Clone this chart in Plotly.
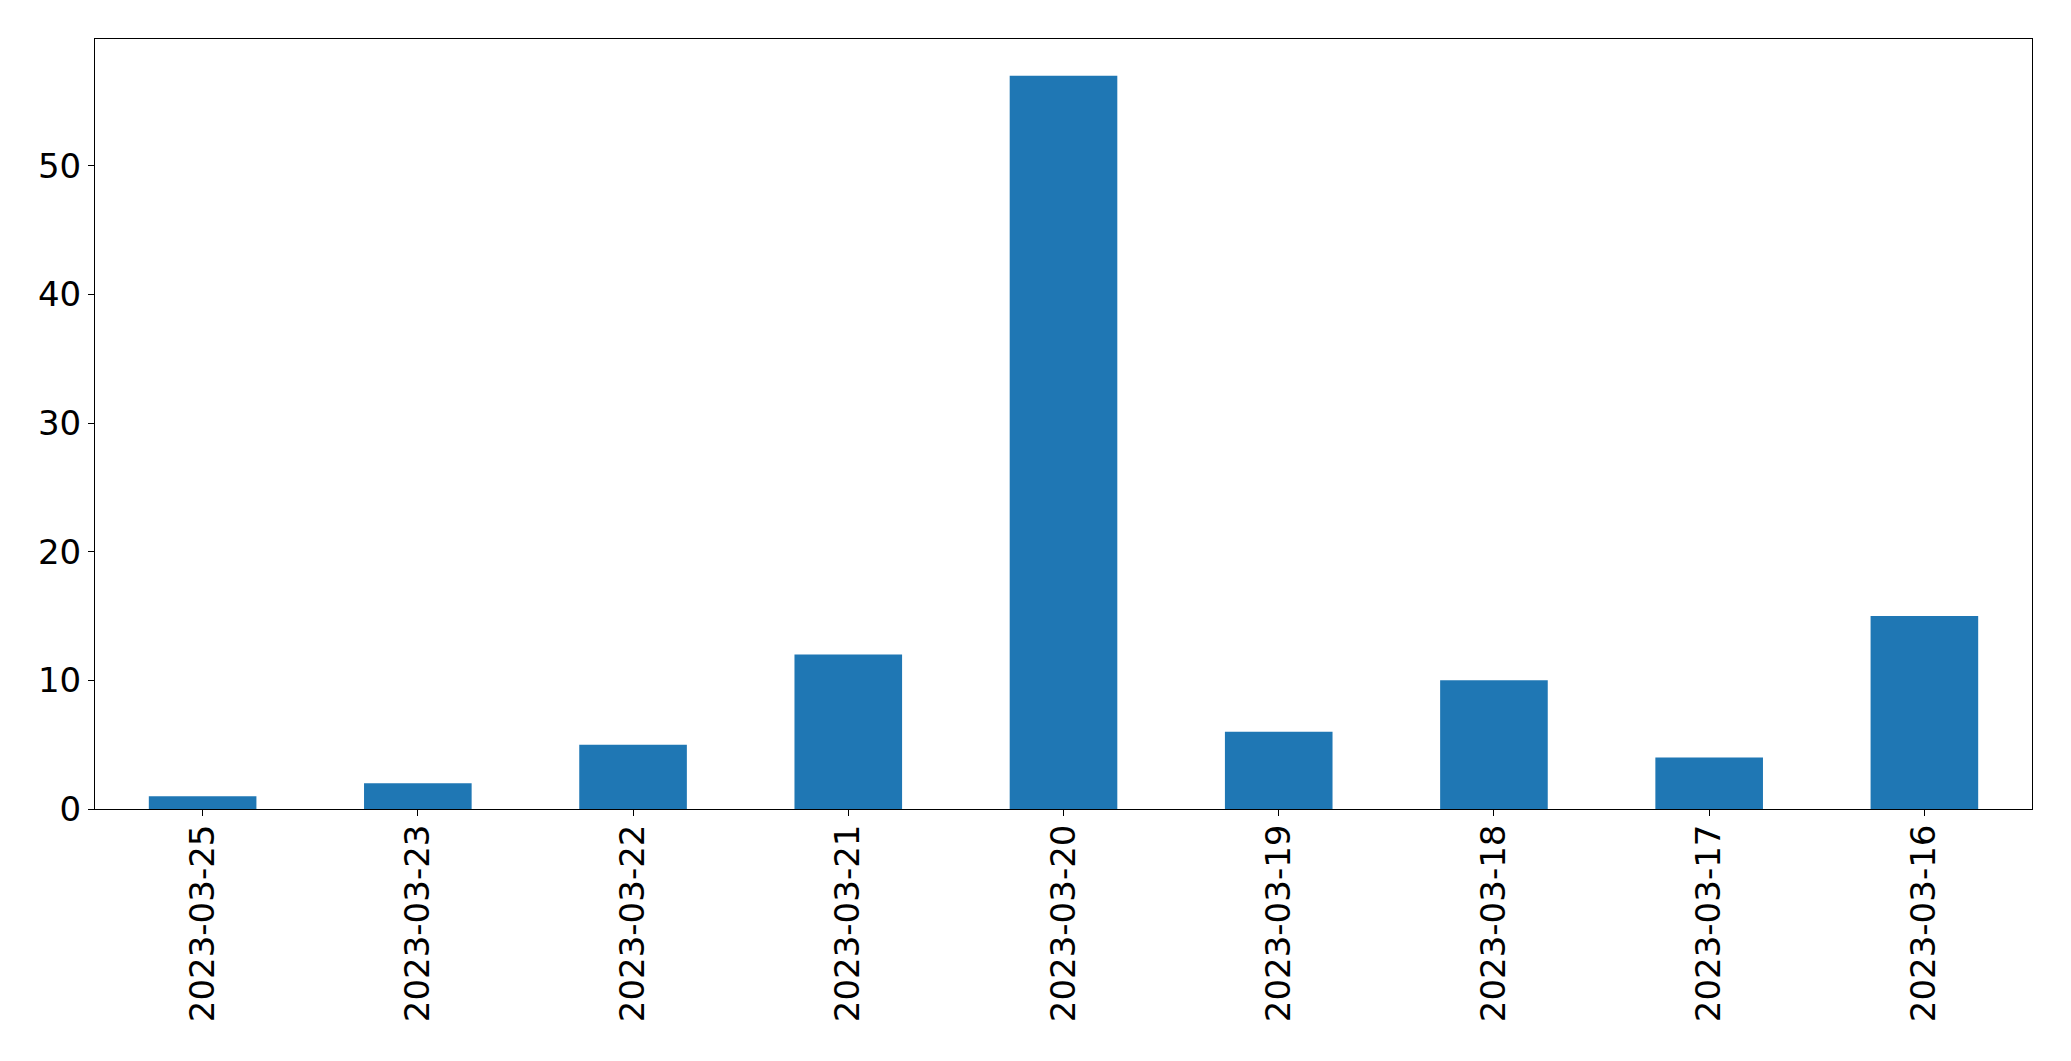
import plotly.graph_objects as go

dates = ["2023-03-25", "2023-03-23", "2023-03-22", "2023-03-21", "2023-03-20",
         "2023-03-19", "2023-03-18", "2023-03-17", "2023-03-16"]
counts = [1, 2, 5, 12, 57, 6, 10, 4, 15]
y_ticks = [0, 10, 20, 30, 40, 50]

fig = go.Figure(go.Bar(x=dates, y=counts, marker=dict(color="#1f77b4", line=dict(width=0)), width=0.5))

font = dict(family="DejaVu Sans", size=34, color="black")
fig.update_layout(
    width=2055, height=1045,
    margin=dict(l=87, r=31, t=31, b=244),
    plot_bgcolor="white", paper_bgcolor="white",
    showlegend=False,
    font=font,
)
fig.update_xaxes(
    type="category", range=[-0.5, 8.5],
    showline=True, mirror=True, linecolor="black", linewidth=1,
    ticks="outside", ticklen=6, tickwidth=1, tickcolor="black",
    tickangle=-90, showgrid=False, tickfont=font,
    ticklabelstandoff=-5,
)
fig.update_yaxes(
    range=[0, 59.85], tickvals=y_ticks,
    showline=True, mirror=True, linecolor="black", linewidth=1,
    ticks="outside", ticklen=6, tickwidth=1, tickcolor="black",
    showgrid=False, zeroline=False, tickfont=font,
)
fig.write_html("out.html")
